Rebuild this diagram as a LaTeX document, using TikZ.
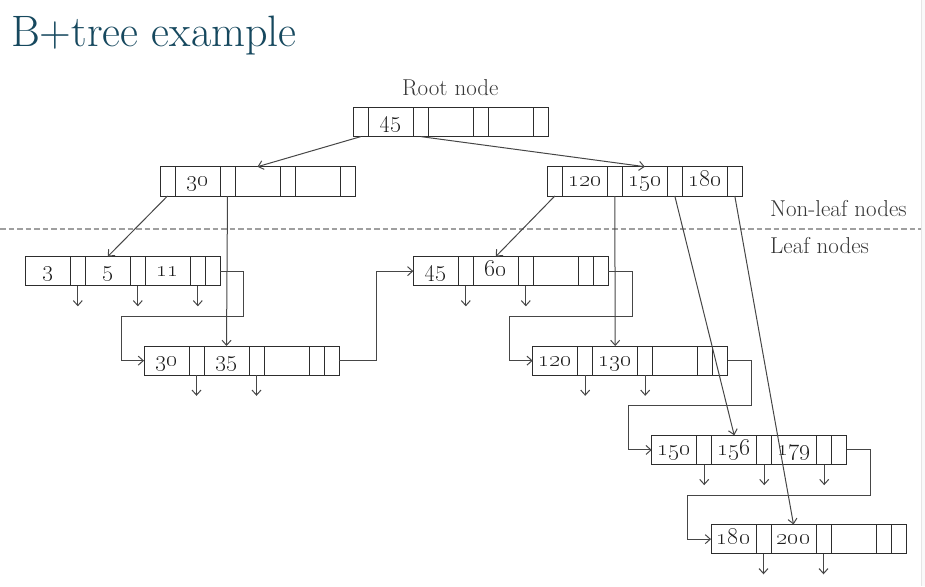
\documentclass[tikz,border=0pt]{standalone}
\usetikzlibrary{positioning,calc,arrows.meta}
\definecolor{titleblue}{RGB}{22,72,94}
\definecolor{cellline}{RGB}{45,45,45}
\definecolor{linkgray}{RGB}{70,70,70}
\definecolor{numtext}{RGB}{30,30,30}
\definecolor{lbltext}{RGB}{55,55,55}
\tikzset{
  ptr/.style={draw=cellline, line width=1pt, minimum width=15pt, minimum height=29.3pt, inner sep=0pt, outer sep=0pt},
  key/.style={ptr, minimum width=45pt, font=\fontsize{20.74}{24}\selectfont, text=numtext, text height=11.4pt, text depth=0.7pt},
  link/.style={draw=linkgray, line width=1pt, -{Straight Barb[length=5pt,width=9pt]}},
  lbl/.style={font=\fontsize{23}{26}\selectfont, text=lbltext, inner sep=0pt},
}
\newcommand{\cellnum}[1]{\scalebox{1.15}{\oldstylenums{#1}}}
% inner node: p k p k p k p
\newcommand{\innernode}[5]{%
  \node[ptr, anchor=north west] (#1p0) at (#2) {};
  \node[key, right=0pt of #1p0] (#1k1) {\cellnum{#3}};
  \node[ptr, right=0pt of #1k1] (#1p1) {};
  \node[key, right=0pt of #1p1] (#1k2) {\cellnum{#4}};
  \node[ptr, right=0pt of #1k2] (#1p2) {};
  \node[key, right=0pt of #1p2] (#1k3) {\cellnum{#5}};
  \node[ptr, right=0pt of #1k3] (#1p3) {};
}
% leaf node: k p k p k p next
\newcommand{\leafnode}[5]{%
  \node[key, anchor=north west] (#1k1) at (#2) {\cellnum{#3}};
  \node[ptr, right=0pt of #1k1] (#1p1) {};
  \node[key, right=0pt of #1p1] (#1k2) {\cellnum{#4}};
  \node[ptr, right=0pt of #1k2] (#1p2) {};
  \node[key, right=0pt of #1p2] (#1k3) {\cellnum{#5}};
  \node[ptr, right=0pt of #1k3] (#1p3) {};
  \node[ptr, right=0pt of #1p3] (#1nx) {};
}
\begin{document}
\begin{tikzpicture}[x=1pt, y=-1pt]
\useasboundingbox (0,0) rectangle (925,586);
\fill[gray!5] (921,0) rectangle (925,586);
\draw[gray!20] (921,0) -- (921,586);
\node[anchor=base west, inner sep=0pt, font=\fontsize{44}{50}\selectfont, text=titleblue] (title) at (11,46.7) {B+tree example};
% separator
\draw[gray!75, line width=1.4pt, dash pattern=on 5.5pt off 3pt] (0,229) -- (921,229);
\node[lbl, anchor=base] (rootlbl) at (450.3,95) {Root node};
\node[lbl, anchor=base west] (nonleaf) at (770,216) {Non-leaf nodes};
\node[lbl, anchor=base west] (leaflbl) at (770,253.3) {Leaf nodes};
% non-leaf nodes
\innernode{r}{353.3,107.3}{45}{}{}
\innernode{a}{160,166.7}{30}{}{}
\innernode{b}{547.3,166.7}{120}{150}{180}
% leaf nodes
\leafnode{l1}{25.3,256.5}{3}{5}{11}
\leafnode{l2}{144,346}{30}{35}{}
\leafnode{l3}{413.3,256.5}{45}{60}{}
\leafnode{l4}{532.7,346}{120}{130}{}
\leafnode{l5}{651.7,435.3}{150}{156}{179}
\leafnode{l6}{711,524.5}{180}{200}{}
% tree pointers
\draw[link] (rp0.south) -- (ak2.north);
\draw[link] (rp1.south) -- (bk2.north);
\draw[link] (ap0.south) -- (l1k2.north);
\draw[link] (ap1.south) -- (l2k2.north);
\draw[link] (bp0.south) -- (l3k2.north);
\draw[link] (bp1.south) -- (l4k2.north);
\draw[link] (bp2.south) -- (l5k2.north);
\draw[link] (bp3.south) -- (l6k2.north);
% record pointers
\draw[link] (l1p1.south) -- ++(0,20.5);
\draw[link] (l1p2.south) -- ++(0,20.5);
\draw[link] (l1p3.south) -- ++(0,20.5);
\draw[link] (l2p1.south) -- ++(0,20.5);
\draw[link] (l2p2.south) -- ++(0,20.5);
\draw[link] (l3p1.south) -- ++(0,20.5);
\draw[link] (l3p2.south) -- ++(0,20.5);
\draw[link] (l4p1.south) -- ++(0,20.5);
\draw[link] (l4p2.south) -- ++(0,20.5);
\draw[link] (l5p1.south) -- ++(0,20.5);
\draw[link] (l5p2.south) -- ++(0,20.5);
\draw[link] (l5p3.south) -- ++(0,20.5);
\draw[link] (l6p1.south) -- ++(0,20.5);
\draw[link] (l6p2.south) -- ++(0,20.5);
% leaf chain
\draw[link] (l1nx.east) -- ++(23,0) -- ++(0,45) -| ($(l2k1.west)+(-23,0)$) -- (l2k1.west);
\draw[link] (l2nx.east) -- ++(37.3,0) |- (l3k1.west);
\draw[link] (l3nx.east) -- ++(24,0) -- ++(0,45) -| ($(l4k1.west)+(-23.7,0)$) -- (l4k1.west);
\draw[link] (l4nx.east) -- ++(24,0) -- ++(0,44.5) -| ($(l5k1.west)+(-23.4,0)$) -- (l5k1.west);
\draw[link] (l5nx.east) -- ++(23.7,0) -- ++(0,45.3) -| ($(l6k1.west)+(-23.7,0)$) -- (l6k1.west);
\end{tikzpicture}
\end{document}
